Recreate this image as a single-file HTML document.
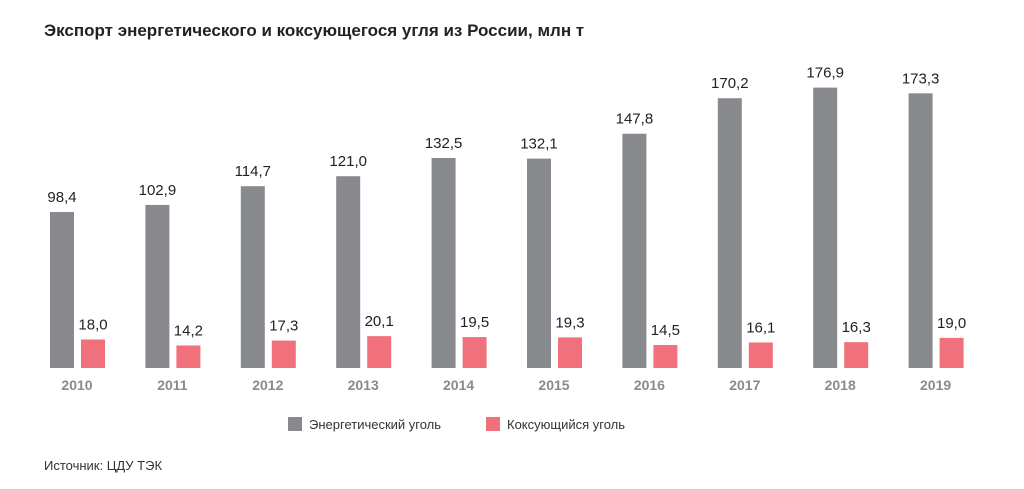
<!DOCTYPE html>
<html><head><meta charset="utf-8"><style>
body{margin:0;background:#fff;width:1024px;height:484px;overflow:hidden;font-family:"Liberation Sans",sans-serif}
</style></head><body>
<svg width="1024" height="484" xmlns="http://www.w3.org/2000/svg" font-family="Liberation Sans, sans-serif">
<text x="44" y="36" font-size="17" font-weight="bold" fill="#222">Экспорт энергетического и коксующегося угля из России, млн т</text>
<g id="bars"></g>
<rect x="288" y="417" width="14" height="14" fill="#88898c"/>
<text x="309" y="429" font-size="13" fill="#333">Энергетический уголь</text>
<rect x="486" y="417" width="14" height="14" fill="#f0707b"/>
<text x="507" y="429" font-size="13" fill="#333">Коксующийся уголь</text>
<text x="44" y="470" font-size="13" fill="#333">Источник: ЦДУ ТЭК</text>
</svg>
<script>
const g=[98.4,102.9,114.7,121.0,132.5,132.1,147.8,170.2,176.9,173.3];
const r=[18.0,14.2,17.3,20.1,19.5,19.3,14.5,16.1,16.3,19.0];
const B=368,k=1.585;let s='';
for(let i=0;i<10;i++){const x=50+i*95.4;
const hg=g[i]*k,hr=r[i]*k;
s+=`<rect x="${x}" y="${B-hg}" width="24" height="${hg}" fill="#88898c"/>`;
s+=`<rect x="${x+31}" y="${B-hr}" width="24" height="${hr}" fill="#f0707b"/>`;
s+=`<text x="${x+12}" y="${B-hg-10}" font-size="15" fill="#222" text-anchor="middle">${g[i].toFixed(1).replace('.',',')}</text>`;
s+=`<text x="${x+43}" y="${B-hr-10}" font-size="15" fill="#222" text-anchor="middle">${r[i].toFixed(1).replace('.',',')}</text>`;
s+=`<text x="${x+27}" y="390" font-size="14" font-weight="bold" fill="#8a8a8a" text-anchor="middle">${2010+i}</text>`;}
document.getElementById('bars').innerHTML=s;
</script>
</body></html>
